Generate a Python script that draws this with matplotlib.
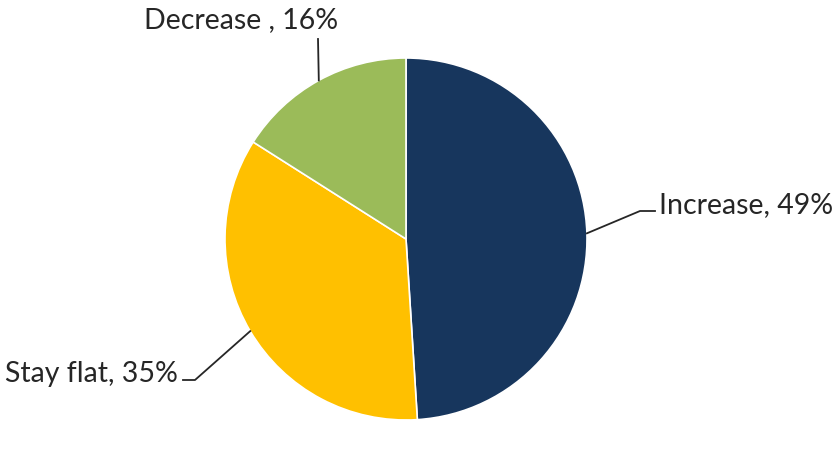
import matplotlib.pyplot as plt
import numpy as np

labels = ["Increase", "Stay flat", "Decrease "]
values = [49, 35, 16]
colors = ["#17365D", "#FFC000", "#9BBB59"]

plt.rcParams['font.family'] = ['Lato', 'DejaVu Sans']

fig = plt.figure(figsize=(8.4, 4.56), dpi=100)
ax = fig.add_axes([0, 0, 1, 1])

cx, cy, r = 406, 216, 181
wedges, _ = ax.pie(values, colors=colors, startangle=90, counterclock=False,
                   center=(cx, cy), radius=r, frame=True,
                   wedgeprops=dict(edgecolor="white", linewidth=1.2))
ax.set_xlim(0, 840)
ax.set_ylim(0, 456)
ax.set_aspect("equal")
ax.axis("off")

# leader lines: (elbow, end of horizontal, text pos, ha)
layout = [
    ((640, 244), (655, 244), (659, 251), "left"),
    ((195, 75), (183, 75), (178, 82), "right"),
    ((318, 416), (318, 416), (241, 436), "center"),
]
for w, lab, v, (elb, end, tpos, ha) in zip(wedges, labels, values, layout):
    ang = np.deg2rad((w.theta1 + w.theta2) / 2)
    x0, y0 = cx + r * np.cos(ang), cy + r * np.sin(ang)
    ax.plot([x0, elb[0], end[0]], [y0, elb[1], end[1]], color="#262626", lw=1.3)
    ax.text(tpos[0], tpos[1], f"{lab}, {v}%", ha=ha, va="center",
            fontsize=20.5, color="#262626")

fig.savefig("out.png", dpi=100)
